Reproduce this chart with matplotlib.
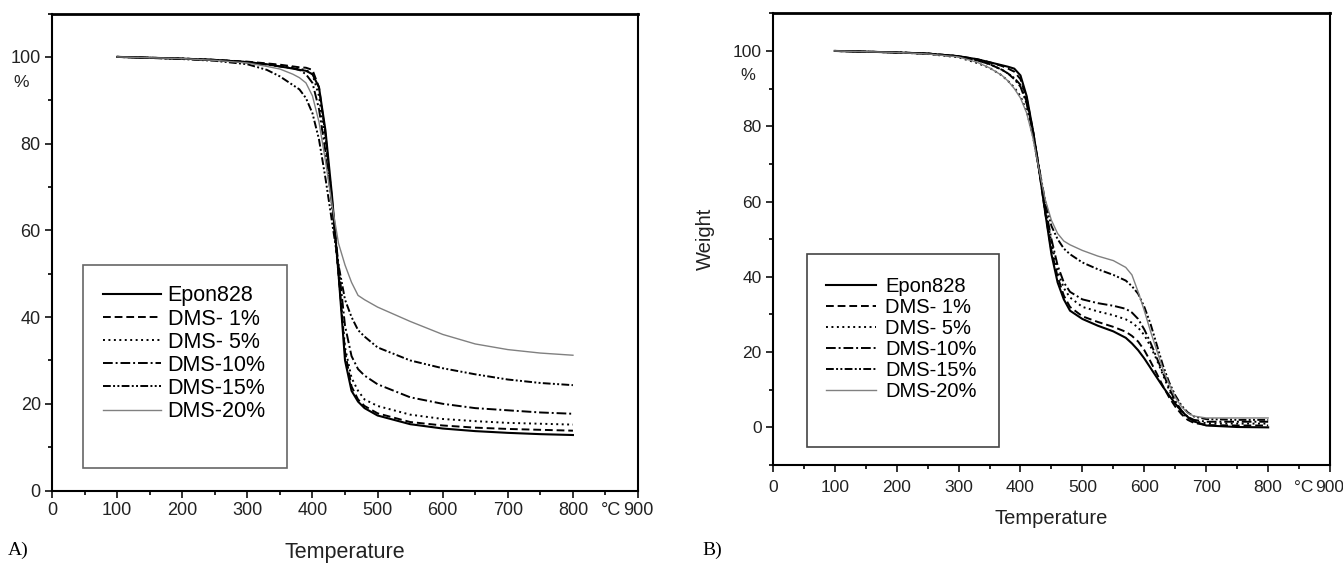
import matplotlib.pyplot as plt
from matplotlib.patches import Rectangle
from matplotlib.ticker import MultipleLocator

plt.rcParams["font.family"] = ["Liberation Sans", "DejaVu Sans"]

labels = ["Epon828", "DMS- 1%", "DMS- 5%", "DMS-10%", "DMS-15%", "DMS-20%"]

# panel A: temperature (°C) and weight (%)
temp_a = [100, 200, 250, 300, 330, 350, 370, 380, 390, 400, 410, 420, 430, 440,
          450, 460, 470, 480, 500, 550, 600, 650, 700, 750, 800]
weight_a = [
    [100, 99.6, 99.3, 98.8, 98.3, 97.8, 97.3, 97.0, 96.8, 96.0, 93.0, 83.0, 68.0, 50.0,
     30.0, 23.0, 20.5, 19.0, 17.3, 15.3, 14.3, 13.7, 13.3, 13.0, 12.8],
    [100, 99.6, 99.3, 98.9, 98.5, 98.2, 97.8, 97.6, 97.5, 97.0, 93.0, 82.0, 67.0, 50.0,
     32.0, 24.0, 21.0, 19.5, 17.8, 15.8, 15.0, 14.5, 14.2, 14.0, 13.8],
    [100, 99.6, 99.3, 98.8, 98.3, 97.9, 97.5, 97.2, 97.0, 96.0, 91.0, 80.0, 66.0, 50.0,
     33.0, 26.0, 23.0, 21.0, 19.5, 17.5, 16.5, 16.0, 15.6, 15.4, 15.2],
    [100, 99.6, 99.3, 98.7, 98.2, 97.8, 97.4, 97.0, 96.0, 94.0, 88.0, 78.0, 66.0, 52.0,
     38.0, 31.0, 28.0, 26.5, 24.5, 21.5, 20.0, 19.0, 18.5, 18.0, 17.7],
    [100, 99.5, 99.1, 98.3, 97.0, 95.5, 93.5, 92.5, 90.5, 87.0, 81.0, 72.0, 62.0, 52.0,
     44.0, 40.0, 37.0, 35.5, 33.0, 30.0, 28.2, 26.8, 25.6, 24.8, 24.3],
    [100, 99.6, 99.2, 98.6, 97.8, 97.2, 96.0, 95.2, 94.0, 91.0, 85.0, 76.0, 66.0, 57.0,
     52.0, 48.0, 45.0, 44.0, 42.3, 39.0, 36.0, 33.8, 32.5, 31.7, 31.2],
]

# panel B: temperature (°C) and weight (%)
temp_b = [100, 200, 250, 300, 330, 350, 370, 380, 390, 400, 410, 420, 430, 440, 450,
          460, 470, 480, 500, 525, 550, 570, 580, 590, 600, 610, 620, 630, 640, 650,
          660, 670, 680, 700, 750, 800]
weight_b = [
    [100, 99.6, 99.3, 98.6, 97.8, 97.0, 96.2, 95.8, 95.3, 93.5, 88.0, 79.0, 68.5, 57.0, 46.0,
     38.5, 34.0, 31.0, 28.8, 27.0, 25.5, 23.8, 22.3, 20.5, 18.3, 15.8, 13.3, 10.8, 8.5, 6.3,
     4.3, 2.8, 1.6, 0.5, 0.1, 0.0],
    [100, 99.6, 99.3, 98.6, 97.8, 97.0, 96.0, 95.3, 94.5, 92.5, 87.5, 79.0, 68.5, 57.0, 47.0,
     40.0, 35.0, 32.0, 29.5, 28.0, 26.7, 25.4, 24.3, 22.8, 20.5, 17.5, 14.3, 11.0, 8.0, 5.5,
     3.5, 2.0, 1.2, 0.6, 0.5, 0.5],
    [100, 99.6, 99.2, 98.3, 96.8, 95.5, 93.5, 92.0, 90.3, 88.0, 84.0, 77.5, 68.5, 58.0, 49.0,
     41.5, 37.0, 34.5, 32.0, 30.8, 29.8, 28.7, 27.8, 26.5, 24.5, 21.5, 18.0, 14.0, 10.0, 6.5,
     4.0, 2.5, 1.6, 1.1, 1.0, 1.0],
    [100, 99.6, 99.3, 98.6, 97.5, 96.5, 95.0, 94.0, 92.5, 90.5, 86.0, 78.5, 68.5, 58.5, 50.0,
     43.0, 38.5, 36.0, 34.0, 33.0, 32.3, 31.5, 30.5, 28.8, 26.0, 22.5, 18.5, 14.5, 10.5, 7.0,
     4.5, 2.8, 2.0, 1.5, 1.5, 1.5],
    [100, 99.6, 99.3, 98.6, 97.5, 96.5, 95.0, 94.0, 92.8, 91.0, 86.5, 79.0, 69.0, 60.0, 53.5,
     50.0, 47.5, 46.0, 43.8, 42.0, 40.5, 39.0, 37.5, 35.5, 32.0, 27.5, 22.0, 16.5, 12.0, 8.5,
     5.8, 4.0, 2.9, 2.2, 2.0, 2.0],
    [100, 99.6, 99.2, 98.4, 97.0, 95.5, 93.5, 92.0, 90.0, 87.5, 83.5, 77.0, 68.5, 60.5, 55.0,
     51.5, 49.5, 48.5, 47.0, 45.5, 44.3, 42.5, 40.5, 36.0, 31.0, 25.5, 20.5, 15.5, 11.5, 8.0,
     5.5, 3.8, 3.0, 2.5, 2.5, 2.5],
]

styles = [
    dict(color="black", lw=1.5, ls="-"),
    dict(color="black", lw=1.4, ls=(0, (4, 2))),
    dict(color="black", lw=1.4, ls=(0, (1, 1.8))),
    dict(color="black", lw=1.4, ls=(0, (5, 1.5, 1, 1.5))),
    dict(color="black", lw=1.4, ls=(0, (4, 1.2, 1, 1.2, 1, 1.2))),
    dict(color="#808080", lw=1.0, ls="-"),
]

TXT = "#222222"


def style_axes(ax, ymin, fs, pad):
    ax.set_xlim(0, 900)
    ax.set_ylim(ymin, 110)
    ax.xaxis.set_major_locator(MultipleLocator(100))
    ax.xaxis.set_minor_locator(MultipleLocator(50))
    ax.yaxis.set_major_locator(MultipleLocator(20))
    ax.yaxis.set_minor_locator(MultipleLocator(10))
    ax.set_xticks([0, 100, 200, 300, 400, 500, 600, 700, 800, 900])
    ax.set_yticks([0, 20, 40, 60, 80, 100])
    ax.tick_params(which="major", direction="out", length=5, width=1.3,
                   labelsize=fs, colors=TXT, pad=3)
    ax.tick_params(axis="x", which="major", pad=pad)
    ax.tick_params(which="minor", direction="out", length=3, width=1.2)
    for sp in ax.spines.values():
        sp.set_linewidth(1.5)
    ax.spines["top"].set_linewidth(2.0)
    ax.annotate("°C", xy=(858, 0), xycoords=("data", "axes fraction"),
                xytext=(0, -(5 + pad)), textcoords="offset points",
                ha="center", va="top", fontsize=fs, color=TXT)


fig = plt.figure(figsize=(13.43, 5.68), dpi=100)

# ---- panel A
ax_a = fig.add_axes([0.0387, 0.1364, 0.4364, 0.8398])
for w, st, lab in zip(weight_a, styles, labels):
    ax_a.plot(temp_a, w, label=lab, **st)
style_axes(ax_a, 0, 13, 3.5)
ax_a.set_xlabel("Temperature", fontsize=15.5, color=TXT, labelpad=16)
ax_a.text(-0.052, 94, "%", transform=ax_a.get_yaxis_transform(), ha="center",
          va="center", fontsize=12.5, color=TXT)
ax_a.add_patch(Rectangle((48, 5.2), 313, 46.9, fill=False, ec="#666666", lw=1.2))
ax_a.legend(loc="upper left", bbox_to_anchor=(0.087, 0.43), frameon=False,
            fontsize=15.5, handlelength=2.7, handletextpad=0.3, labelspacing=0.1,
            borderpad=0, borderaxespad=0)
fig.text(0.006, 0.015, "A)", family=["Liberation Serif"], fontsize=14, ha="left", va="bottom")

# ---- panel B
ax_b = fig.add_axes([0.5754, 0.1813, 0.4150, 0.7953])
for w, st, lab in zip(weight_b, styles, labels):
    ax_b.plot(temp_b, w, label=lab, **st)
style_axes(ax_b, -10, 12.5, 6)
ax_b.set_xlabel("Temperature", fontsize=14.5, color=TXT, labelpad=10)
ax_b.set_ylabel("Weight", fontsize=14.5, color=TXT, labelpad=13)
ax_b.text(-0.045, 93.5, "%", transform=ax_b.get_yaxis_transform(), ha="center",
          va="center", fontsize=12, color=TXT)
ax_b.add_patch(Rectangle((55.6, -5.2), 309.4, 51.2, fill=False, ec="#444444", lw=1.2))
ax_b.legend(loc="upper left", bbox_to_anchor=(0.0956, 0.416), frameon=False,
            fontsize=14.5, handlelength=2.5, handletextpad=0.45, labelspacing=0.1,
            borderpad=0, borderaxespad=0)
fig.text(0.523, 0.015, "B)", family=["Liberation Serif"], fontsize=14, ha="left", va="bottom")

fig.savefig("out.png", dpi=100)
